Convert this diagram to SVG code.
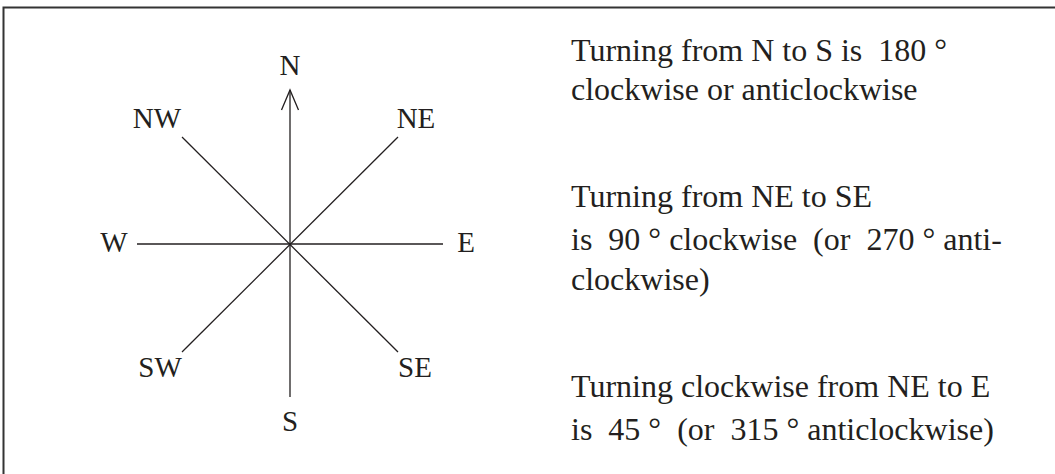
<svg xmlns="http://www.w3.org/2000/svg" width="1055" height="474" viewBox="0 0 1055 474">
<style>
text { font-family: "Liberation Serif", "Times New Roman", serif; fill: #231f20; white-space: pre; }
.lbl { font-size: 29px; text-anchor: middle; }
.txt { font-size: 32px; }
.ln { stroke: #231f20; stroke-width: 1.3; fill: none; }
</style>
<rect x="3.5" y="7.5" width="1060" height="480" fill="#fff" stroke="#333" stroke-width="2"/>
<g id="connectors">
<line class="ln" x1="290" y1="244" x2="290" y2="90"/>
<polyline class="ln" points="281.5,110 290,90 298.5,110"/>
<line class="ln" x1="290" y1="244" x2="290" y2="397"/>
<line class="ln" x1="137" y1="244" x2="443" y2="244"/>
<line class="ln" x1="182" y1="137" x2="398" y2="352"/>
<line class="ln" x1="398" y1="137" x2="182" y2="352"/>
</g>
<g id="N"><text class="lbl" x="290" y="75">N</text></g>
<g id="NE"><text class="lbl" x="416" y="128">NE</text></g>
<g id="NW"><text class="lbl" x="157" y="128">NW</text></g>
<g id="W"><text class="lbl" x="114" y="252">W</text></g>
<g id="E"><text class="lbl" x="466" y="252">E</text></g>
<g id="SW"><text class="lbl" x="160" y="377">SW</text></g>
<g id="SE"><text class="lbl" x="415" y="377">SE</text></g>
<g id="S"><text class="lbl" x="290" y="431">S</text></g>
<g id="notes">
<text class="txt" x="571" y="61">Turning from N to S is  180 °</text>
<text class="txt" x="571" y="100">clockwise or anticlockwise</text>
<text class="txt" x="571" y="207">Turning from NE to SE</text>
<text class="txt" x="571" y="250">is  90 ° clockwise  (or  270 ° anti-</text>
<text class="txt" x="571" y="290">clockwise)</text>
<text class="txt" x="571" y="397">Turning clockwise from NE to E</text>
<text class="txt" x="571" y="440">is  45 °  (or  315 ° anticlockwise)</text>
</g>
</svg>
